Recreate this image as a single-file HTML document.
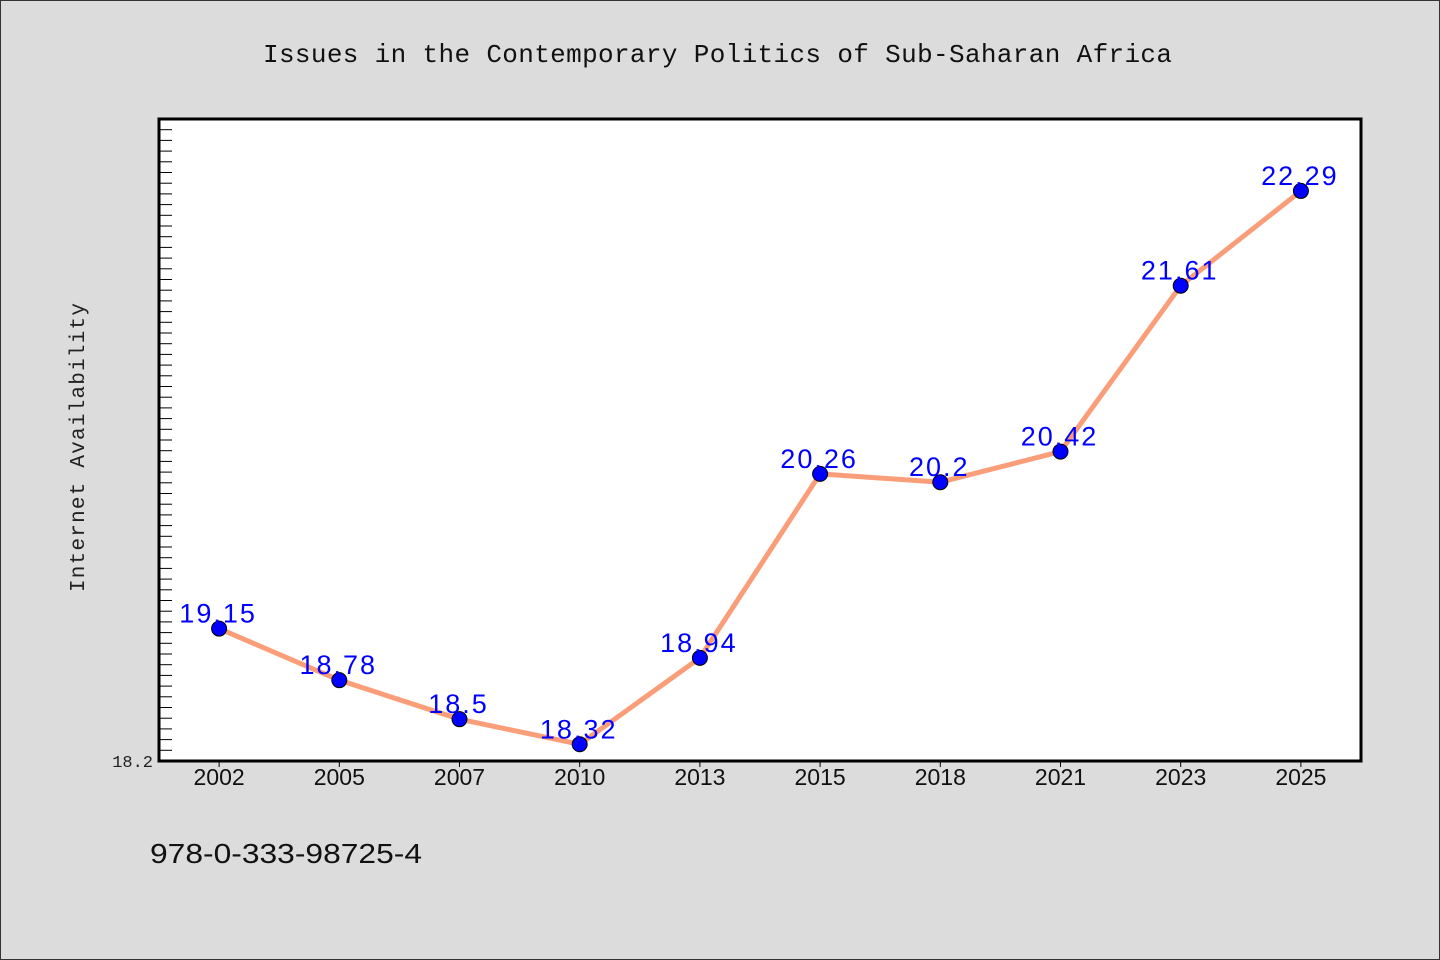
<!DOCTYPE html>
<html><head><meta charset="utf-8"><style>
body{margin:0;background:#dcdcdc;}
svg{display:block}
</style></head><body>
<svg width="1440" height="960" xmlns="http://www.w3.org/2000/svg">
<rect x="0.5" y="0.5" width="1439" height="959" fill="#dcdcdc" stroke="#333" stroke-width="1"/>
<text x="263" y="62" textLength="909" lengthAdjust="spacing" font-family="Liberation Mono, monospace" font-size="26" fill="#111">Issues in the Contemporary Politics of Sub-Saharan Africa</text>
<rect x="159" y="119" width="1202" height="642" fill="#fff" stroke="#000" stroke-width="3"/>
<g id="ticks"></g>
<g id="xt"></g>
<text x="153" y="767" text-anchor="end" font-family="Liberation Mono, monospace" font-size="17" fill="#222">18.2</text>
<text transform="translate(84,592) rotate(-90)" textLength="289" lengthAdjust="spacing" font-family="Liberation Mono, monospace" font-size="21" fill="#222">Internet Availability</text>
<path id="line" fill="none" stroke="#fa9e7a" stroke-width="5" stroke-linejoin="round"/>
<g id="pts"></g>
<text x="150" y="863" textLength="272" lengthAdjust="spacingAndGlyphs" font-family="Liberation Sans, sans-serif" font-size="28" fill="#111">978-0-333-98725-4</text>
</svg>
<script>
const categories=["2002","2005","2007","2010","2013","2015","2018","2021","2023","2025"];
const values=[19.15,18.78,18.5,18.32,18.94,20.26,20.2,20.42,21.61,22.29];
const labels=["19.15","18.78","18.5","18.32","18.94","20.26","20.2","20.42","21.61","22.29"];
const yMin=18.2, yMax=22.806;
const NS="http://www.w3.org/2000/svg";
const L=159,R=1361,T=119,B=761;
const band=(R-L)/categories.length;
const x=i=>L+band*(i+0.5);
const y=v=>B-(v-yMin)/(yMax-yMin)*(B-T);
const tk=document.getElementById('ticks');
for(let p=B-10.7;p>T+5;p-=10.7){
 const l=document.createElementNS(NS,'line');
 
 
 l.setAttribute('x1',L);l.setAttribute('x2',L+13);l.setAttribute('y1',p);l.setAttribute('y2',p);
 l.setAttribute('stroke','#000');l.setAttribute('stroke-width','1');tk.appendChild(l);
}
const xt=document.getElementById('xt');
categories.forEach((c,i)=>{
 const l=document.createElementNS(NS,'line');
 
 
 l.setAttribute('x1',x(i));l.setAttribute('x2',x(i));l.setAttribute('y1',B);l.setAttribute('y2',B+6);
 l.setAttribute('stroke','#000');xt.appendChild(l);
 const t=document.createElementNS(NS,'text');
 
 
 t.setAttribute('x',x(i));t.setAttribute('y',B+24);t.setAttribute('text-anchor','middle');
 t.setAttribute('font-family','Liberation Sans, sans-serif');t.setAttribute('font-size','23');t.setAttribute('fill','#111');
 t.textContent=c;xt.appendChild(t);
});
document.getElementById('line').setAttribute('d',values.map((v,i)=>(i?'L':'M')+x(i)+','+y(v)).join(' '));
const pts=document.getElementById('pts');
values.forEach((v,i)=>{
 const c=document.createElementNS(NS,'circle');
 
 
 c.setAttribute('cx',x(i));c.setAttribute('cy',y(v));c.setAttribute('r','7.5');
 c.setAttribute('fill','#0000ff');c.setAttribute('stroke','#000');c.setAttribute('stroke-width','1');pts.appendChild(c);
 const t=document.createElementNS(NS,'text');
 
 
 t.setAttribute('x',x(i)-1);t.setAttribute('y',y(v)-6);t.setAttribute('text-anchor','middle');
 t.setAttribute('font-family','Liberation Sans, sans-serif');t.setAttribute('font-size','27');t.setAttribute('letter-spacing','2');t.setAttribute('fill','#0000ff');
 t.textContent=labels[i];pts.appendChild(t);
});
</script>
</body></html>
